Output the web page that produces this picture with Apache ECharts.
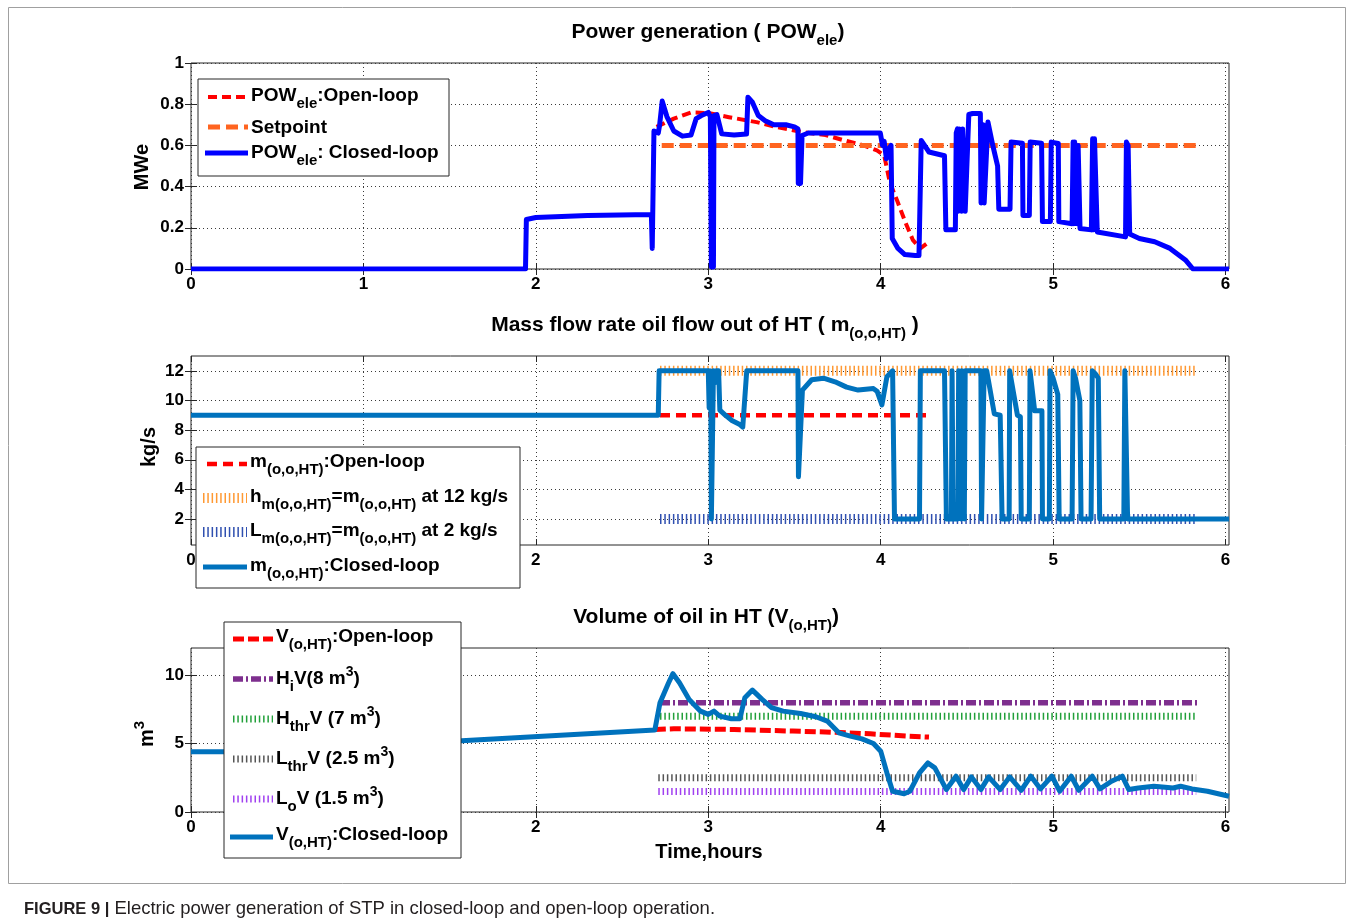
<!DOCTYPE html>
<html>
<head>
<meta charset="utf-8">
<script src="https://cdn.jsdelivr.net/npm/echarts@6/dist/echarts.min.js"></script>
<style>
  html, body { margin: 0; padding: 0; background: #ffffff; }
  #chart { width: 1354px; height: 924px; }
</style>
</head>
<body>
<div id="chart"></div>
<script>
// ---- axis ranges and tick labels ----
const timeRange = [0, 6.02];
const timeTicks = [0, 1, 2, 3, 4, 5, 6];
const powRange = [0, 1];
const powTicks = [0, 0.2, 0.4, 0.6, 0.8, 1];
const flowRange = [0.25, 13];
const flowTicks = [2, 4, 6, 8, 10, 12];
const volRange = [0, 12];
const volTicks = [0, 5, 10];

// ---- power generation (MWe), [time in hours, value] ----
const powOpenLoop = [[2.70,0.69],[2.80,0.73],[2.90,0.76],[3.00,0.757],[3.12,0.737],[3.28,0.713],
  [3.39,0.69],[3.545,0.665],[3.68,0.65],[3.79,0.624],[3.90,0.60],[3.978,0.576],[4.02,0.552],
  [4.053,0.42],[4.098,0.326],[4.142,0.229],[4.187,0.14],[4.23,0.10],[4.28,0.132]];
const powSetpoint = [[2.73,0.6],[5.83,0.6]];
const powClosedLoop = [[0,0],[1.94,0],[1.945,0.24],[2.0,0.25],[2.3,0.26],[2.67,0.265],[2.675,0.10],
  [2.685,0.67],[2.71,0.66],[2.718,0.70],[2.733,0.815],[2.76,0.74],[2.80,0.67],[2.85,0.645],[2.90,0.65],
  [2.93,0.73],[2.96,0.745],[3.0,0.76],[3.012,0.74],[3.018,0.01],[3.03,0.01],[3.033,0.745],[3.05,0.75],
  [3.078,0.656],[3.15,0.65],[3.222,0.655],[3.23,0.834],[3.256,0.81],[3.29,0.745],[3.33,0.72],[3.38,0.70],
  [3.45,0.70],[3.50,0.69],[3.52,0.68],[3.522,0.415],[3.535,0.415],[3.544,0.648],[3.58,0.66],[3.80,0.66],
  [3.998,0.66],[4.01,0.60],[4.02,0.62],[4.033,0.535],[4.045,0.58],[4.06,0.60],[4.067,0.148],[4.10,0.10],
  [4.14,0.07],[4.20,0.065],[4.222,0.065],[4.235,0.624],[4.28,0.568],[4.37,0.55],[4.378,0.19],[4.433,0.19],
  [4.438,0.66],[4.445,0.68],[4.45,0.28],[4.455,0.68],[4.465,0.68],[4.47,0.28],[4.475,0.68],[4.485,0.68],
  [4.49,0.28],[4.50,0.28],[4.511,0.75],[4.533,0.755],[4.578,0.755],[4.582,0.32],[4.59,0.32],[4.595,0.70],
  [4.60,0.32],[4.61,0.32],[4.622,0.713],[4.65,0.60],[4.678,0.50],[4.685,0.29],[4.75,0.29],[4.756,0.616],
  [4.822,0.61],[4.825,0.26],[4.862,0.26],[4.867,0.616],[4.933,0.61],[4.938,0.23],[4.984,0.23],[4.989,0.616],
  [5.03,0.61],[5.033,0.23],[5.11,0.22],[5.116,0.616],[5.12,0.22],[5.125,0.616],[5.135,0.616],[5.14,0.22],
  [5.145,0.60],[5.156,0.197],[5.222,0.19],[5.229,0.632],[5.235,0.19],[5.24,0.632],[5.25,0.632],[5.256,0.18],
  [5.42,0.156],[5.425,0.616],[5.435,0.60],[5.444,0.17],[5.50,0.148],[5.589,0.132],[5.678,0.10],
  [5.767,0.044],[5.811,0],[6.02,0]];

// ---- oil mass flow out of HT (kg/s) ----
const flowOpenLoop = [[2.72,9],[4.28,9]];
const flowHighLimit = [[2.72,12],[5.83,12]];
const flowLowLimit = [[2.72,2],[5.83,2]];
const flowClosedLoop = [[0,9],[2.71,9],[2.715,12],[3.0,12],[3.005,9.5],[3.01,12],[3.015,10],[3.018,2],
  [3.025,2],[3.03,12],[3.04,11.2],[3.045,12],[3.06,12],[3.067,9.35],[3.10,9.0],[3.134,8.67],[3.18,8.4],
  [3.20,8.2],[3.223,12],[3.52,12],[3.523,4.85],[3.53,4.85],[3.546,10.7],[3.60,11.4],[3.668,11.5],
  [3.735,11.26],[3.802,10.9],[3.869,10.7],[3.958,10.8],[3.98,10.6],[4.007,9.7],[4.036,11.6],[4.069,12],
  [4.08,2],[4.225,2],[4.23,12],[4.37,12],[4.381,2],[4.41,2],[4.414,12],[4.42,2],[4.448,2],[4.452,12],
  [4.46,12],[4.465,2],[4.47,12],[4.48,12],[4.485,2],[4.49,12],[4.581,12],[4.585,2],[4.595,2],[4.60,12],
  [4.615,12],[4.659,9.1],[4.693,9.0],[4.704,2],[4.745,2],[4.748,12],[4.793,9.0],[4.81,8.9],[4.815,2],
  [4.862,2],[4.866,12],[4.893,9.3],[4.935,9.3],[4.938,2],[4.978,2],[4.982,12],[5.0,11.5],[5.027,10.4],
  [5.035,2],[5.11,2],[5.116,12],[5.13,11.5],[5.155,10.0],[5.162,2],[5.22,2],[5.227,12],[5.245,11.8],
  [5.262,11.5],[5.27,2],[5.41,2],[5.416,12],[5.425,12],[5.432,2],[6.02,2]];

// ---- volume of oil in HT (m3) ----
const volOpenLoop = [[2.69,6.04],[2.80,6.09],[3.15,6.04],[3.49,5.92],[3.71,5.84],[3.94,5.72],
  [4.16,5.55],[4.28,5.48]];
const volHi = [[2.72,8],[5.85,8]];
const volHthr = [[2.72,7],[5.83,7]];
const volLthr = [[2.71,2.5],[5.83,2.5]];
const volLo = [[2.71,1.5],[5.83,1.5]];
const volClosedLoop = [[0,4.4],[0.35,4.4],[1.57,5.22],[2.30,5.73],[2.69,6.0],[2.72,8.0],[2.77,9.46],
  [2.795,10.12],[2.833,9.46],[2.889,8.24],[2.955,7.38],[3.0,7.14],[3.033,7.38],[3.067,7.02],[3.134,6.82],
  [3.183,6.82],[3.212,8.36],[3.256,8.92],[3.312,8.24],[3.367,7.63],[3.434,7.38],[3.535,7.21],[3.624,6.97],
  [3.69,6.65],[3.757,5.79],[3.824,5.55],[3.891,5.35],[3.958,5.01],[4.0,4.45],[4.036,2.86],[4.069,1.52],
  [4.136,1.34],[4.169,1.52],[4.225,2.86],[4.274,3.59],[4.314,3.23],[4.381,1.64],[4.437,2.62],[4.481,1.64],
  [4.526,2.57],[4.581,1.64],[4.626,2.57],[4.693,1.64],[4.748,2.57],[4.815,1.59],[4.871,2.62],[4.927,1.69],
  [4.993,2.62],[5.038,1.52],[5.105,2.62],[5.149,1.59],[5.227,2.62],[5.272,1.69],[5.339,2.25],[5.401,2.62],
  [5.439,1.64],[5.494,1.76],[5.584,1.88],[5.65,1.81],[5.695,1.76],[5.739,1.88],[5.806,1.69],[5.895,1.52],
  [6.02,1.15]];

// ---- styling ----
const FF = '"Liberation Sans", Arial, Helvetica, sans-serif';
const AXC = '#262626';
const C = {
  red: '#FF0000', setpoint: '#FF6420', blue: '#0000FF', steel: '#0072BD',
  orange: '#FF9933', navy: '#3050B0', purple: '#7E2F8E', green: '#22A03A',
  gray: '#555555', violet: '#A040F0'
};
const TICK_DASH = [1.5, 2.8];

const grids = [
  { left: 191, right: 125, top: 63, height: 206 },
  { left: 191, right: 125, top: 356, height: 189 },
  { left: 191, right: 125, top: 648, height: 164 }
].map(g => Object.assign({ show: true, borderColor: AXC, borderWidth: 1, backgroundColor: 'transparent' }, g));

const labelStyle = { color: '#000', fontFamily: FF, fontWeight: 'bold', fontSize: 17 };
const gridLine = { show: true, lineStyle: { color: '#3a3a3a', width: 1, type: [1, 3] } };

function xAxes(gi) {
  const base = { type: 'value', gridIndex: gi, min: timeRange[0], max: timeRange[1], axisLine: { show: false } };
  return [
    Object.assign({}, base, {
      position: 'bottom',
      axisTick: { show: true, inside: true, length: 6, customValues: timeTicks, lineStyle: { color: AXC } },
      axisLabel: Object.assign({ show: true, customValues: timeTicks, margin: 7 }, labelStyle),
      splitLine: gridLine
    }),
    Object.assign({}, base, {
      position: 'top',
      axisTick: { show: true, inside: true, length: 6, customValues: timeTicks, lineStyle: { color: AXC } },
      axisLabel: { show: false }, splitLine: { show: false }
    })
  ];
}
function yAxes(gi, range, ticks) {
  const base = { type: 'value', gridIndex: gi, min: range[0], max: range[1], axisLine: { show: false } };
  return [
    Object.assign({}, base, {
      position: 'left',
      axisTick: { show: true, inside: true, length: 6, customValues: ticks, lineStyle: { color: AXC } },
      axisLabel: Object.assign({ show: true, customValues: ticks, margin: 7 }, labelStyle),
      splitLine: gridLine
    }),
    Object.assign({}, base, {
      position: 'right',
      axisTick: { show: true, inside: true, length: 6, customValues: ticks, lineStyle: { color: AXC } },
      axisLabel: { show: false }, splitLine: { show: false }
    })
  ];
}

function line(gi, data, color, width, dash, z) {
  return {
    type: 'line', xAxisIndex: gi * 2, yAxisIndex: gi * 2, data: data,
    showSymbol: false, symbol: 'none', silent: true, z: z || 2,
    lineStyle: { color: color, width: width, type: dash || 'solid', cap: 'butt', join: 'round' }
  };
}

const series = [
  line(0, powOpenLoop, C.red, 4, [9, 5], 3),
  line(0, powSetpoint, C.setpoint, 5, [12, 6], 3),
  line(0, powClosedLoop, C.blue, 5, null, 4),

  line(1, flowHighLimit, C.orange, 10, TICK_DASH, 2),
  line(1, flowLowLimit, C.navy, 10, TICK_DASH, 2),
  line(1, flowOpenLoop, C.red, 4.5, [10, 6], 3),
  line(1, flowClosedLoop, C.steel, 5, null, 4),

  line(2, volHi, C.purple, 5.5, [10, 3, 2, 3], 3),
  line(2, volHthr, C.green, 7, TICK_DASH, 2),
  line(2, volLthr, C.gray, 7, TICK_DASH, 2),
  line(2, volLo, C.violet, 7, TICK_DASH, 2),
  line(2, volOpenLoop, C.red, 5, [11, 4], 3),
  line(2, volClosedLoop, C.steel, 5, null, 4)
];

// ---- rich text styles for sub/superscripts ----
// "lift" pushes the main glyphs down so a superscript can sit above them
function richSet(main, sub, sup, lh, drop, lift) {
  const k = lift || 0;
  return {
    n: { font: 'bold ' + main + 'px ' + FF, fill: '#000', verticalAlign: 'top', lineHeight: lh, padding: [k, 0, 0, 0] },
    s: { font: 'bold ' + sub + 'px ' + FF, fill: '#000', verticalAlign: 'top', lineHeight: sub, padding: [drop + k, 0, 0, 0] },
    p: { font: 'bold ' + sup + 'px ' + FF, fill: '#000', verticalAlign: 'top', lineHeight: sup }
  };
}
const LEG_RICH = richSet(19, 15, 14, 20, 10, 0);
const SUP_RICH = richSet(19, 15, 14, 20, 10, 4);
const TITLE_RICH = richSet(21, 15, 15, 22, 11, 0);
const NAME_RICH = richSet(20, 15, 15, 22, 11, 5);

function txt(x, yc, text, rich, lh, align) {
  return { type: 'text', x: x, y: yc - lh / 2, z: 110, silent: true,
    style: { text: text, rich: rich, align: align || 'left', verticalAlign: 'top' } };
}
function sample(x1, x2, y, stroke, width, dash) {
  return { type: 'line', z: 105, silent: true, shape: { x1: x1, y1: y, x2: x2, y2: y },
    style: { stroke: stroke, lineWidth: width, lineDash: dash || null, lineCap: 'butt' } };
}
function box(x, y, w, h) {
  return { type: 'rect', z: 100, silent: true, shape: { x: x, y: y, width: w, height: h },
    style: { fill: '#ffffff', stroke: AXC, lineWidth: 1 } };
}

const graphics = [
  // figure frame
  { type: 'rect', z: 0, silent: true, shape: { x: 8.5, y: 7.5, width: 1337, height: 876 },
    style: { fill: 'none', stroke: '#a0a0a0', lineWidth: 1 } },

  // panel titles
  txt(708, 33, '{n|Power generation ( POW}{s|ele}{n|)}', TITLE_RICH, 22, 'center'),
  txt(705, 326, '{n|Mass flow rate oil flow out of HT ( m}{s|(o,o,HT)}{n| )}', TITLE_RICH, 22, 'center'),
  txt(706, 618, '{n|Volume of oil in HT (V}{s|(o,HT)}{n|)}', TITLE_RICH, 22, 'center'),

  // axis names
  { type: 'text', x: 142, y: 167, rotation: Math.PI / 2, silent: true,
    style: { text: 'MWe', font: 'bold 20px ' + FF, fill: '#000', align: 'center', verticalAlign: 'middle' } },
  { type: 'text', x: 149, y: 447, rotation: Math.PI / 2, silent: true,
    style: { text: 'kg/s', font: 'bold 20px ' + FF, fill: '#000', align: 'center', verticalAlign: 'middle' } },
  { type: 'text', x: 143, y: 734, rotation: Math.PI / 2, silent: true,
    style: { text: '{n|m}{p|3}', rich: NAME_RICH, align: 'center', verticalAlign: 'middle' } },
  { type: 'text', x: 709, y: 852, silent: true,
    style: { text: 'Time,hours', font: 'bold 20px ' + FF, fill: '#000', align: 'center', verticalAlign: 'middle' } },

  // legend: power
  box(198, 79, 251, 97),
  sample(208, 248, 97, C.red, 4, [9, 5]),
  txt(251, 96, '{n|POW}{s|ele}{n|:Open-loop}', LEG_RICH, 20),
  sample(208, 248, 127, C.setpoint, 5, [12, 6]),
  txt(251, 128, '{n|Setpoint}', LEG_RICH, 20),
  sample(205, 248, 153, C.blue, 5),
  txt(251, 153, '{n|POW}{s|ele}{n|: Closed-loop}', LEG_RICH, 20),

  // legend: mass flow
  box(196, 447, 324, 141),
  sample(207, 247, 464, C.red, 4.5, [10, 6]),
  txt(250, 462, '{n|m}{s|(o,o,HT)}{n|:Open-loop}', LEG_RICH, 20),
  sample(203, 247, 498, C.orange, 10, TICK_DASH),
  txt(250, 497, '{n|h}{s|m(o,o,HT)}{n|=m}{s|(o,o,HT)}{n| at 12 kg/s}', LEG_RICH, 20),
  sample(203, 247, 532, C.navy, 10, TICK_DASH),
  txt(250, 531, '{n|L}{s|m(o,o,HT)}{n|=m}{s|(o,o,HT)}{n| at 2 kg/s}', LEG_RICH, 20),
  sample(203, 247, 567, C.steel, 5),
  txt(250, 566, '{n|m}{s|(o,o,HT)}{n|:Closed-loop}', LEG_RICH, 20),

  // legend: volume
  box(224, 622, 237, 236),
  sample(233, 273, 639, C.red, 5, [11, 4]),
  txt(276, 637, '{n|V}{s|(o,HT)}{n|:Open-loop}', LEG_RICH, 20),
  sample(233, 273, 679, C.purple, 5.5, [10, 3, 2, 3]),
  txt(276, 679 - 4, '{n|H}{s|i}{n|V(8 m}{p|3}{n|)}', SUP_RICH, 20),
  sample(233, 273, 719, C.green, 7, TICK_DASH),
  txt(276, 719 - 4, '{n|H}{s|thr}{n|V (7 m}{p|3}{n|)}', SUP_RICH, 20),
  sample(233, 273, 759, C.gray, 7, TICK_DASH),
  txt(276, 759 - 4, '{n|L}{s|thr}{n|V (2.5 m}{p|3}{n|)}', SUP_RICH, 20),
  sample(233, 273, 799, C.violet, 7, TICK_DASH),
  txt(276, 799 - 4, '{n|L}{s|o}{n|V (1.5 m}{p|3}{n|)}', SUP_RICH, 20),
  sample(230, 273, 837, C.steel, 5),
  txt(276, 835, '{n|V}{s|(o,HT)}{n|:Closed-loop}', LEG_RICH, 20),

  // caption
  { type: 'text', x: 24, y: 909, silent: true,
    style: { text: '{b|FIGURE 9 |}{r| Electric power generation of STP in closed-loop and open-loop operation.}',
      rich: { b: { font: 'bold 16.5px ' + FF, fill: '#231F20' }, r: { font: '18.5px ' + FF, fill: '#231F20' } },
      align: 'left', verticalAlign: 'middle' } }
];

const chart = echarts.init(document.getElementById('chart'), null, { renderer: 'canvas' });
chart.setOption({
  animation: false,
  backgroundColor: '#ffffff',
  grid: grids,
  xAxis: [].concat(xAxes(0), xAxes(1), xAxes(2)),
  yAxis: [].concat(yAxes(0, powRange, powTicks), yAxes(1, flowRange, flowTicks), yAxes(2, volRange, volTicks)),
  series: series,
  graphic: graphics
});
</script>
</body>
</html>
